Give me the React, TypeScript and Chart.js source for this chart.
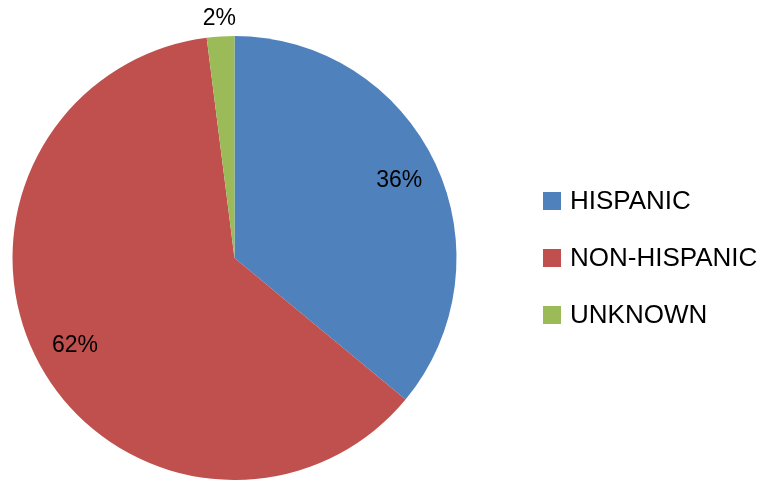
import React, { useEffect, useRef } from "react";
import { Chart, registerables } from "chart.js";

Chart.register(...registerables);

const categories = ["HISPANIC", "NON-HISPANIC", "UNKNOWN"];
const values = [36, 62, 2];
const valueLabels = ["36%", "62%", "2%"];
const colors = ["#4F81BD", "#C0504D", "#9BBB59"];

const FONT = '"Liberation Sans", Arial, sans-serif';

const overlayPlugin = {
  id: "overlay",
  afterDraw(chart: any) {
    const ctx = chart.ctx;
    const meta = chart.getDatasetMeta(0);
    const total = values.reduce((a, b) => a + b, 0);
    ctx.save();
    // slice labels
    ctx.font = `23px ${FONT}`;
    ctx.fillStyle = "#000";
    ctx.textAlign = "center";
    ctx.textBaseline = "middle";
    meta.data.forEach((arc: any, i: number) => {
      const { x, y, startAngle, endAngle, outerRadius } = arc.getProps(
        ["x", "y", "startAngle", "endAngle", "outerRadius"],
        true
      );
      const mid = (startAngle + endAngle) / 2;
      const share = values[i] / total;
      const r = share < 0.05 ? outerRadius + 18 : outerRadius * 0.82;
      ctx.fillText(valueLabels[i], x + Math.cos(mid) * r, y + Math.sin(mid) * r);
    });
    // legend
    const lx = 543;
    const ys = [201, 258, 315];
    ctx.font = `26px ${FONT}`;
    ctx.textAlign = "left";
    categories.forEach((c, i) => {
      ctx.fillStyle = colors[i];
      ctx.fillRect(lx, ys[i] - 9, 18, 18);
      ctx.fillStyle = "#000";
      ctx.fillText(c, 570, ys[i] + 1);
    });
    ctx.restore();
  },
};

export default function App() {
  const ref = useRef<HTMLCanvasElement | null>(null);
  useEffect(() => {
    if (!ref.current) return;
    const chart = new Chart(ref.current, {
      type: "pie",
      data: {
        labels: categories,
        datasets: [
          {
            data: values,
            backgroundColor: colors,
            borderWidth: 0,
          },
        ],
      },
      options: {
        responsive: false,
        animation: false,
        layout: { padding: { top: 36, bottom: 0, left: 12, right: 318 } },
        plugins: {
          legend: { display: false },
          tooltip: { enabled: false },
        },
      },
      plugins: [overlayPlugin],
    });
    return () => chart.destroy();
  }, []);
  return (
    <div style={{ position: "fixed", left: 0, top: 0, width: 775, height: 480, background: "#fff" }}>
      <canvas ref={ref} width={775} height={480} />
    </div>
  );
}
